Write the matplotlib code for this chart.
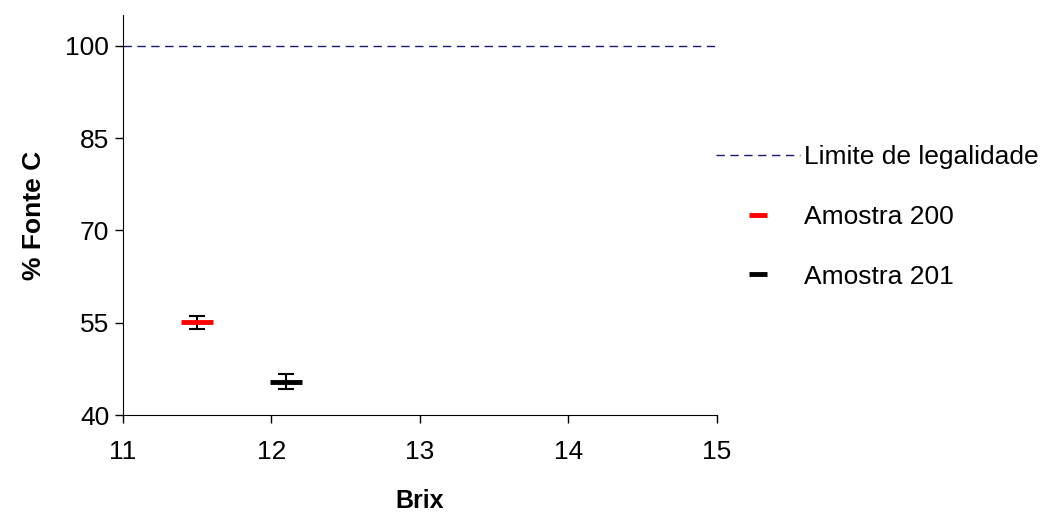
import matplotlib
matplotlib.use('Agg')
import matplotlib.pyplot as plt

plt.rcParams['font.family'] = ['Liberation Sans', 'DejaVu Sans']

# data
samples = ['Amostra 200', 'Amostra 201']
brix = [11.5, 12.1]
fonte_c = [55.1, 45.4]
err = [1.05, 1.2]
colors = ['red', 'black']
limit = 100
limit_label = 'Limite de legalidade'
x_ticks = [11, 12, 13, 14, 15]
y_ticks = [40, 55, 70, 85, 100]

fig = plt.figure(figsize=(10.47, 5.15), dpi=100)
ax = fig.add_axes([0.1175, 0.194, 0.567, 0.777])

ax.plot([x_ticks[0], x_ticks[-1]], [limit, limit], color='#1a1a6e', lw=1,
        dashes=(6, 4), label=limit_label)

for x, y, e, c, name in zip(brix, fonte_c, err, colors, samples):
    ax.errorbar(x, y, yerr=e, fmt='none', ecolor='black', elinewidth=1.5,
                capsize=5.5, capthick=1.5)
    ax.plot(x, y, marker='_', color=c, markersize=23, mew=3.5,
            linestyle='none', label=name)

ax.set_xlim(11, 15)
ax.set_ylim(40, 105)
ax.set_xticks(x_ticks)
ax.set_yticks(y_ticks)
ax.tick_params(labelsize=19, direction='out', length=6, width=1)
ax.tick_params(axis='x', pad=12)
ax.tick_params(axis='y', pad=4)
for s in ['top', 'right']:
    ax.spines[s].set_visible(False)

ax.set_xlabel('Brix', fontsize=18, fontweight='bold', labelpad=18)
ax.set_ylabel('% Fonte C', fontsize=19, fontweight='bold', labelpad=14)

fig.legend(loc='center left', bbox_to_anchor=(716 / 1047, 1 - 217 / 515),
           frameon=False, fontsize=19, borderpad=0, borderaxespad=0,
           handlelength=3.2, handletextpad=0.15, labelspacing=1.35,
           markerscale=0.55)

fig.savefig('out.png', dpi=100)
